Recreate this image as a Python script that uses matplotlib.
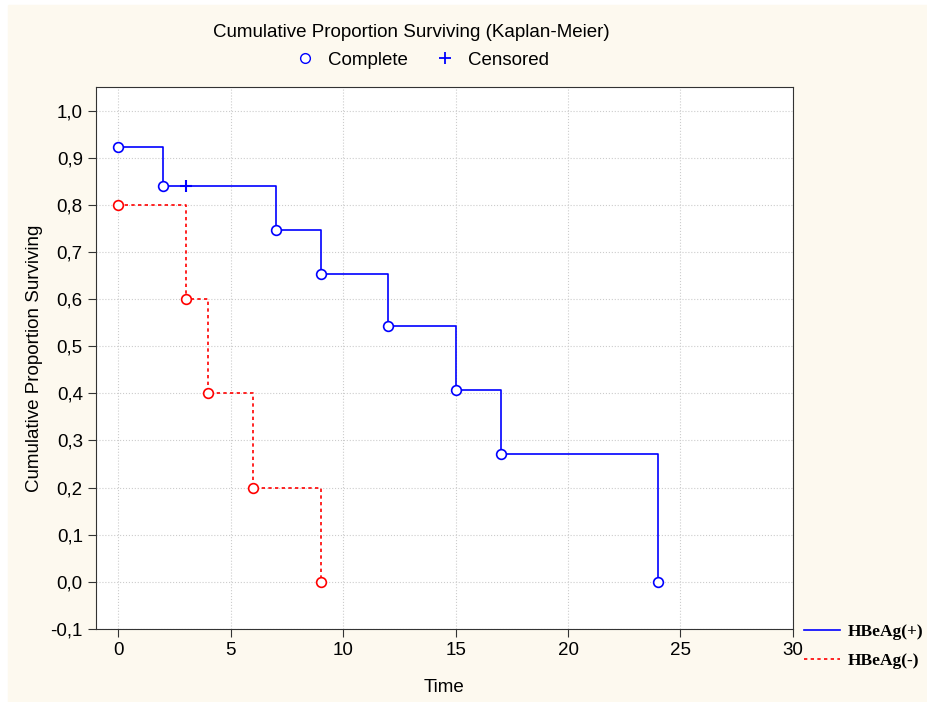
import matplotlib
matplotlib.use("Agg")
import matplotlib.pyplot as plt
from matplotlib.lines import Line2D
from matplotlib.ticker import FuncFormatter

plt.rcParams["font.family"] = ["Liberation Sans", "DejaVu Sans"]

# Kaplan-Meier estimates
pos_time = [0, 2, 7, 9, 12, 15, 17, 24]
pos_surv = [0.923, 0.840, 0.747, 0.653, 0.543, 0.408, 0.272, 0.0]
pos_cens_time = [3]
pos_cens_surv = [0.840]

neg_time = [0, 3, 4, 6, 9]
neg_surv = [0.8, 0.6, 0.4, 0.2, 0.0]

xticks = [0, 5, 10, 15, 20, 25, 30]
yticks = [-0.1, 0.0, 0.1, 0.2, 0.3, 0.4, 0.5, 0.6, 0.7, 0.8, 0.9, 1.0]

bg = "#fdf9ef"
fig = plt.figure(figsize=(9.28, 7.02), dpi=100, facecolor="white")
fig.patches.append(plt.Rectangle((8 / 928, 0), 1 - 8 / 928, 1 - 5 / 702,
                                 transform=fig.transFigure, color=bg, zorder=-10))
ax = fig.add_axes([0.1034, 0.104, 0.751, 0.772])
ax.set_facecolor("white")

ax.step(pos_time, pos_surv, where="post", color="#0000ff", lw=1.2, zorder=3)
ax.plot(pos_time, pos_surv, "o", mfc="white", mec="#0000ff", ms=7, mew=1.2, zorder=4)
ax.plot(pos_cens_time, pos_cens_surv, "+", color="#0000ff", ms=9, mew=1.5, zorder=4)

ax.step(neg_time, neg_surv, where="post", color="#ff0000", lw=1.2, ls=(0, (2, 2)), zorder=3)
ax.plot(neg_time, neg_surv, "o", mfc="white", mec="#ff0000", ms=7, mew=1.2, zorder=4)

ax.set_xlim(-1, 30)
ax.set_ylim(-0.1, 1.05)
ax.set_xticks(xticks)
ax.set_yticks(yticks)
ax.yaxis.set_major_formatter(FuncFormatter(lambda v, p: f"{v:.1f}".replace(".", ",")))
ax.grid(True, color="#cccccc", ls=":", lw=0.8)
ax.tick_params(direction="out", length=6, labelsize=13.5, color="#333333")
for s in ax.spines.values():
    s.set_color("#333333")

ax.set_xlabel("Time", fontsize=13.5, labelpad=14)
ax.set_ylabel("Cumulative Proportion Surviving", fontsize=13.5, labelpad=5)

fig.text(0.443, 0.953, "Cumulative Proportion Surviving (Kaplan-Meier)", ha="center",
         va="center", fontsize=13.5)
top_handles = [Line2D([], [], ls="none", marker="o", mfc="white", mec="#0000ff", ms=7),
               Line2D([], [], ls="none", marker="+", color="#0000ff", ms=8, mew=1.3)]
fig.legend(top_handles, ["Complete", "Censored"], loc="center", bbox_to_anchor=(0.45, 0.914),
           ncol=2, frameon=False, fontsize=13.5, handletextpad=0.2, columnspacing=1.0)

bot_handles = [Line2D([], [], color="#0000ff", lw=1.2),
               Line2D([], [], color="#ff0000", lw=1.2, ls=(0, (2, 2)))]
fig.legend(bot_handles, ["HBeAg(+)", "HBeAg(-)"], loc="center left",
           bbox_to_anchor=(0.866, 0.079), frameon=False, borderpad=0, borderaxespad=0,
           prop={"family": "Liberation Serif", "weight": "bold", "size": 12.5},
           handlelength=2.1, handletextpad=0.45, labelspacing=0.7)

fig.savefig("out.png", dpi=100, facecolor=fig.get_facecolor())
